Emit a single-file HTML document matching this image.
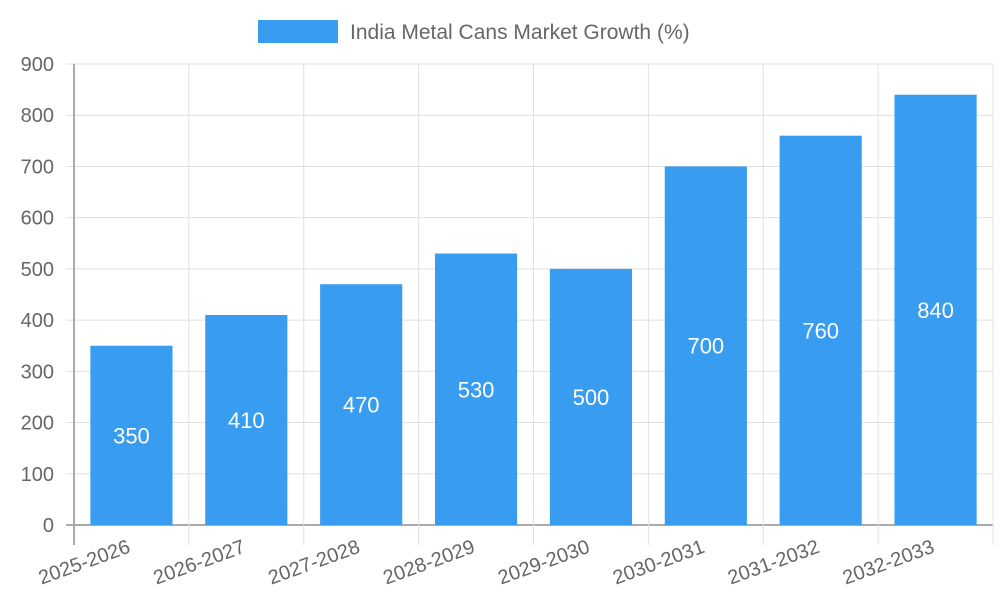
<!DOCTYPE html>
<html><head><meta charset="utf-8"><style>
body{margin:0;background:#fff;}
svg{display:block;font-family:"Liberation Sans",sans-serif;}
</style></head><body>
<svg id="c" width="1000" height="600">
<rect x="258" y="20" width="80" height="23" fill="#389cf0"/>
<text x="350" y="39" font-size="21" fill="#666">India Metal Cans Market Growth (%)</text>
<g id="grid"></g><g id="bars"></g><g id="labels"></g>
</svg>
<script>
const categories=["2025-2026","2026-2027","2027-2028","2028-2029","2029-2030","2030-2031","2031-2032","2032-2033"];
const values=[350,410,470,530,500,700,760,840];
const yTicks=[0,100,200,300,400,500,600,700,800,900];
const NS="http://www.w3.org/2000/svg";
const L=74,R=993,T=64,B=525,yMax=900;
const cw=(R-L)/categories.length;
const y=v=>B-(v/yMax)*(B-T);
const x=i=>L+i*cw;
function mk(tag,attrs,parent,txt){const e=document.createElementNS(NS,tag);for(const k in attrs)e.setAttribute(k,attrs[k]);if(txt!==undefined)e.textContent=txt;document.getElementById(parent).appendChild(e);return e;}
yTicks.forEach(t=>{
 const g=mk('line',{x1:L-8,x2:R,y1:y(t),y2:y(t),stroke:t===0?'#aaa':'#e0e0e0','stroke-width':t===0?2:1},'grid');
 
 
 const l=mk('text',{x:L-20,y:y(t)+7,'text-anchor':'end','font-size':20,fill:'#666'},'grid',t);
 
 
});
for(let i=0;i<=categories.length;i++){
 const g=mk('line',{x1:x(i),x2:x(i),y1:T,y2:B+20,stroke:i===0?'#aaa':'#e0e0e0','stroke-width':i===0?2:1},'grid');
 
 
}
categories.forEach((c,i)=>{
 const bw=cw*0.715, bx=x(i)+(cw-bw)/2;
 const r=mk('rect',{x:bx,y:y(values[i]),width:bw,height:B-y(values[i]),fill:'#389cf0'},'bars');
 
 
 const v=mk('text',{x:bx+bw/2,y:(y(values[i])+B)/2+8,'text-anchor':'middle','font-size':22,fill:'#fff'},'labels',values[i]);
 
 
 const cx=x(i)+cw/2;
 const t=mk('text',{x:cx,y:552,'text-anchor':'end','font-size':20,fill:'#666',transform:`rotate(-20 ${cx} 552)`},'labels',c);
 
 
});
</script>
</body></html>
